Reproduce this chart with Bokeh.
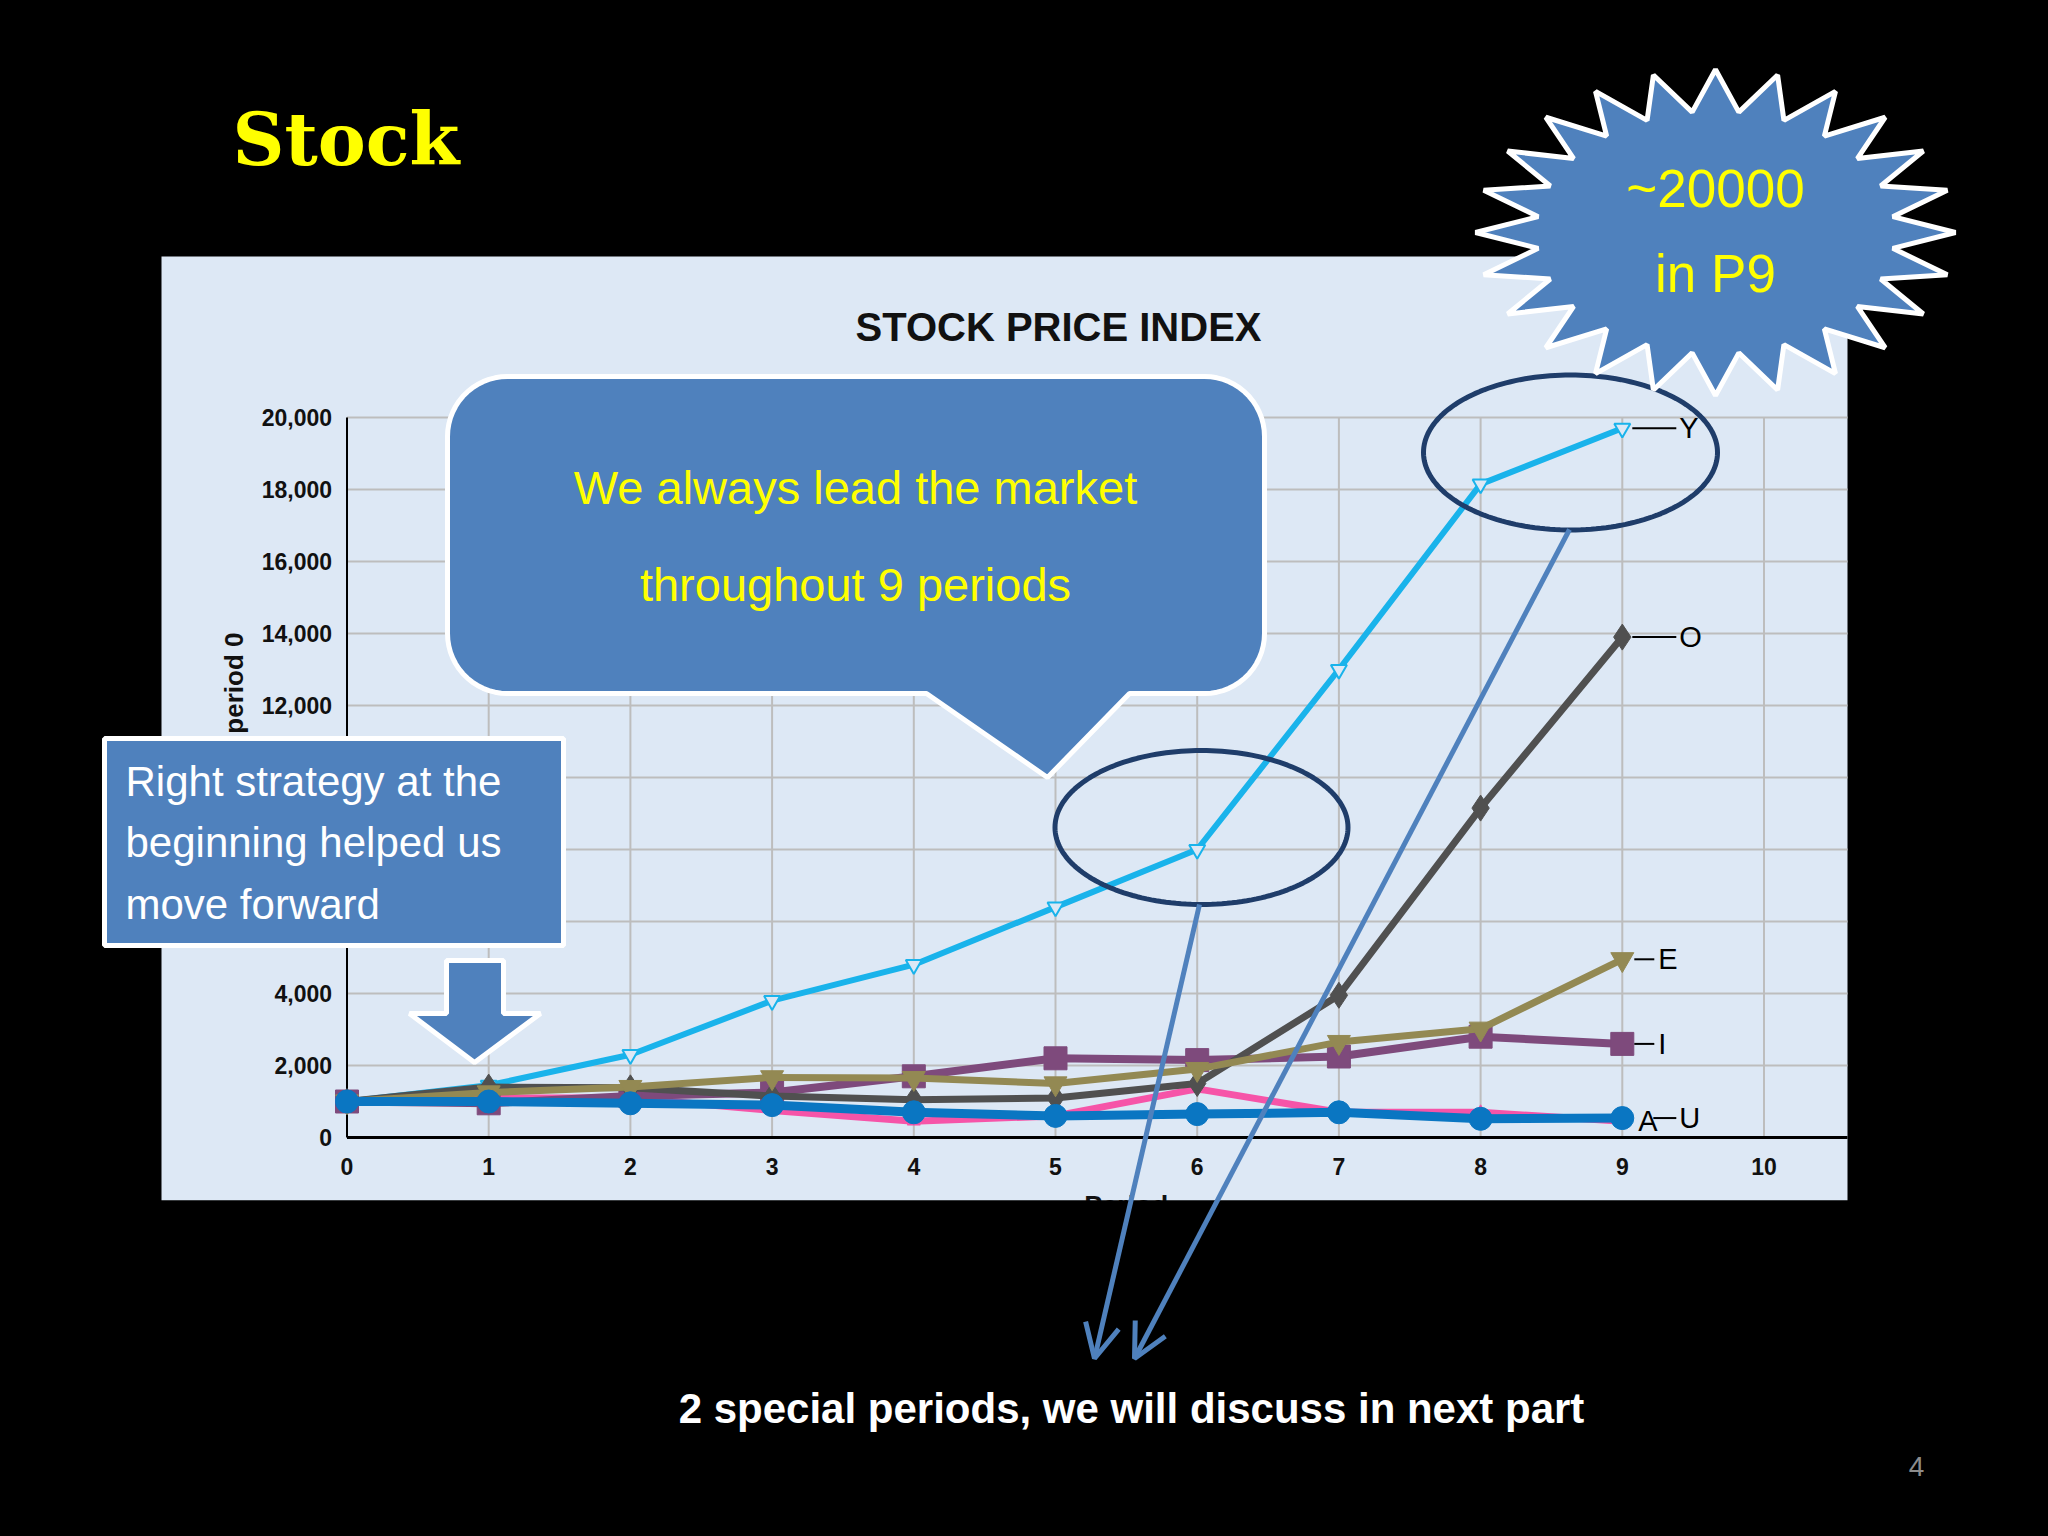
import numpy as np
from bokeh.plotting import figure
from bokeh.models import Range1d, Arrow, OpenHead
from bokeh.core.properties import value
from bokeh.embed import file_html
from bokeh.resources import INLINE

# ---------------- data ----------------
periods = [0, 1, 2, 3, 4, 5, 6, 7, 8, 9]
Y = [1000, 1450, 2300, 3800, 4800, 6400, 8000, 13000, 18150, 19700]
O = [1000, 1400, 1380, 1150, 1050, 1100, 1500, 3950, 9150, 13900]
E = [1000, 1250, 1400, 1670, 1650, 1500, 1900, 2650, 3020, 4950]
I = [1000, 950, 1150, 1250, 1700, 2200, 2150, 2250, 2800, 2600]
A = [1000, 1100, 1100, 750, 450, 600, 1350, 700, 700, 450]
U = [1000, 1000, 950, 900, 700, 600, 650, 700, 520, 540]
series_names = ["Y", "A", "I", "O", "E", "U"]
series_values = {"Y": Y, "O": O, "E": E, "I": I, "A": A, "U": U}
y_ticks = [0, 2000, 4000, 6000, 8000, 10000, 12000, 14000, 16000, 18000, 20000]
y_tick_labels = ["0", "2,000", "4,000", "6,000", "8,000", "10,000", "12,000",
                 "14,000", "16,000", "18,000", "20,000"]
x_ticks = [0, 1, 2, 3, 4, 5, 6, 7, 8, 9, 10]
x_tick_labels = [str(t) for t in x_ticks]

# ---------------- styles ----------------
colors = {"Y": "#19b3eb", "O": "#505050", "E": "#938953", "I": "#7e4a7c",
          "A": "#f654a8", "U": "#0a76c2"}
markers = {"Y": "inverted_triangle", "O": "diamond", "E": "inverted_triangle",
           "I": "square", "A": "triangle", "U": "circle"}
msize = {"Y": 16, "O": 26, "E": 23, "I": 23, "A": 13, "U": 23}
lwidth = {"Y": 6, "O": 7, "E": 7, "I": 8, "A": 7, "U": 9}
# (leader start px, leader end px, label px) from the point at period 9
label_pos = {"Y": (10, 54, 57), "O": (10, 54, 57), "E": (12, 32, 36),
             "I": (12, 32, 36), "A": (None, None, 16), "U": (31, 54, 57)}

PANEL = "#dde8f5"
BLUE = "#4f81bd"
NAVY = "#1f3d6a"
SANS = "Liberation Sans"

W, H = 2032, 1520
X0_REF, X_UNIT = 346.5, 141.7     # screen px of period 0, px per period
Y0_REF, Y_UNIT = 1137.0, 0.036    # screen px of value 0, px per unit


def xr(px):
    return (px - X0_REF) / X_UNIT


def yr(py):
    return (Y0_REF - py) / Y_UNIT


p = figure(width=W, height=H,
           x_range=Range1d(xr(0), xr(W)), y_range=Range1d(yr(H), yr(0)),
           output_backend="svg", toolbar_location=None,
           x_axis_location=None, y_axis_location=None, min_border=0,
           outline_line_color=None, background_fill_color="black",
           border_fill_color="black")
p.extra_x_ranges = {"px": Range1d(0, W)}
p.extra_y_ranges = {"px": Range1d(H, 0)}
p.grid.visible = False
kw = dict(x_range_name="px", y_range_name="px")

# chart panel
p.quad(left=[161], right=[1847], top=[256], bottom=[1200], fill_color=PANEL,
       line_color=None, **kw)
X_RIGHT = xr(1847)

# grid
gy = y_ticks[1:]
p.segment(x0=[0] * len(gy), y0=gy, x1=[X_RIGHT] * len(gy), y1=gy,
          line_color="#bdbdbd", line_width=2)
gx = x_ticks[1:]
p.segment(x0=gx, y0=[0] * len(gx), x1=gx, y1=[y_ticks[-1]] * len(gx),
          line_color="#bdbdbd", line_width=2)
# axis lines
p.segment(x0=[0], y0=[0], x1=[0], y1=[y_ticks[-1]], line_color="black", line_width=2)
p.segment(x0=[0], y0=[0], x1=[X_RIGHT], y1=[0], line_color="black", line_width=3)

# tick labels
p.text(x=[0] * len(y_ticks), y=y_ticks, text=y_tick_labels, x_offset=-15,
       text_align="right", text_baseline="middle", text_font=value(SANS),
       text_font_style="bold", text_font_size="23px", text_color="#111111")
p.text(x=x_ticks, y=[0] * len(x_ticks), text=x_tick_labels, y_offset=29,
       text_align="center", text_baseline="middle", text_font=value(SANS),
       text_font_style="bold", text_font_size="23px", text_color="#111111")

# titles
p.text(x=[1058], y=[326], text=["STOCK PRICE INDEX"], text_align="center",
       text_baseline="middle", text_font=value(SANS),
       text_font_style="bold", text_font_size="40px", text_color="#111111", **kw)
p.text(x=[233], y=[632], text=["Relative to period 0"], angle=np.pi / 2,
       text_align="right", text_baseline="middle", text_font=value(SANS),
       text_font_style="bold", text_font_size="26px", text_color="#111111", **kw)
p.text(x=[5.5], y=[0], text=["Period"], y_offset=53, text_align="center",
       text_baseline="top", text_font=value(SANS),
       text_font_style="bold", text_font_size="27px", text_color="#111111")
# slide background below the chart panel
p.quad(left=[0], right=[2048], top=[1200], bottom=[1540], fill_color="black",
       line_color=None, **kw)

# series
for name in series_names:
    vals = series_values[name]
    c = colors[name]
    p.line(periods, vals, line_color=c, line_width=lwidth[name])
    if name == "Y":
        p.scatter(periods, vals, marker=markers[name], size=msize[name],
                  fill_color=PANEL, line_color=c, line_width=2)
    else:
        p.scatter(periods, vals, marker=markers[name], size=msize[name],
                  fill_color=c, line_color=c)

# end labels
for name in ["Y", "O", "E", "I", "A", "U"]:
    v = series_values[name][-1]
    a, b, t = label_pos[name]
    if a is not None:
        p.segment(x0=[periods[-1] + a / X_UNIT], y0=[v], x1=[periods[-1] + b / X_UNIT],
                  y1=[v], line_color="black", line_width=2)
    p.text(x=[periods[-1]], y=[v], text=[name], x_offset=t, text_align="left",
           text_baseline="middle", text_font=value(SANS),
           text_font_size="29px", text_color="black")

# highlight ellipses
tt = np.linspace(0, 2 * np.pi, 181)
for cx, cy, ew, eh in [(1201, 827, 293, 154), (1570, 452, 294, 155)]:
    p.line(cx + ew / 2 * np.cos(tt), cy + eh / 2 * np.sin(tt), line_color=NAVY,
           line_width=5, **kw)


# speech callout
def arc(cx, cy, r, a0, a1, n=16):
    t = np.radians(np.linspace(a0, a1, n))
    return list(cx + r * np.cos(t)), list(cy + r * np.sin(t))


L, R, T, B, rad = 447, 1264, 376, 693, 60
xs, ys = [], []
for (cx, cy, a0, a1) in [(L + rad, T + rad, 180, 270), (R - rad, T + rad, 270, 360),
                         (R - rad, B - rad, 0, 90)]:
    ax_, ay_ = arc(cx, cy, rad, a0, a1)
    xs += ax_
    ys += ay_
xs += [1129, 1047, 926]
ys += [B, 777, B]
ax_, ay_ = arc(L + rad, B - rad, rad, 90, 180)
xs += ax_
ys += ay_
p.patch(xs, ys, fill_color=BLUE, line_color="white", line_width=5, **kw)
p.text(x=[855, 855], y=[487, 584], text=["We always lead the market", "throughout 9 periods"],
       text_align="center", text_baseline="middle", text_font=value(SANS),
       text_font_size="47px", text_color="#ffff00", **kw)

# left text box and block arrow
p.quad(left=[104], right=[563], top=[738], bottom=[945], fill_color=BLUE,
       line_color="white", line_width=5, **kw)
p.text(x=[125, 125, 125], y=[781, 842, 904],
       text=["Right strategy at the", "beginning helped us", "move forward"],
       text_align="left", text_baseline="middle", text_font=value(SANS),
       text_font_size="42px", text_color="white", **kw)
p.patch([446, 503, 503, 540, 474, 409, 446], [960, 960, 1013, 1013, 1062, 1013, 1013],
        fill_color=BLUE, line_color="white", line_width=5, **kw)

# starburst
k = np.arange(48)
ang = np.radians(90 - k * 7.5)
rr = np.where(k % 2 == 0, 1.0, 0.745)
p.patch(1715 + 240 * rr * np.cos(ang), 232 - 163 * rr * np.sin(ang),
        fill_color=BLUE, line_color="white", line_width=5, **kw)
p.text(x=[1715, 1715], y=[188, 273], text=["~20000", "in P9"], text_align="center",
       text_baseline="middle", text_font=value(SANS), text_font_size="53px",
       text_color="#ffff00", **kw)

# slide title
p.text(x=[232], y=[139], text=["Stock"], text_align="left", text_baseline="middle",
       text_font=value("DejaVu Serif"), text_font_style="bold", text_font_size="72px",
       text_color="#ffff00", **kw)

# pointer arrows
for (x0, y0, x1, y1) in [(1199, 904, 1094, 1358), (1569, 529, 1134, 1358)]:
    p.add_layout(Arrow(end=OpenHead(size=34, line_color=BLUE, line_width=5),
                       x_start=x0, y_start=y0, x_end=x1, y_end=y1,
                       line_color=BLUE, line_width=5, **kw))

# bottom note and page number
p.text(x=[1131], y=[1408], text=["2 special periods, we will discuss in next part"],
       text_align="center", text_baseline="middle", text_font=value(SANS),
       text_font_style="bold", text_font_size="42px", text_color="white", **kw)
p.text(x=[1916], y=[1466], text=["4"], text_align="center", text_baseline="middle",
       text_font=value(SANS), text_font_size="28px", text_color="#8c8c8c", **kw)

html = file_html(p, INLINE, title="Stock")
html = html.replace("</head>", "<style>html,body{background:#000000;}</style></head>", 1)
open("out.html", "w").write(html)
